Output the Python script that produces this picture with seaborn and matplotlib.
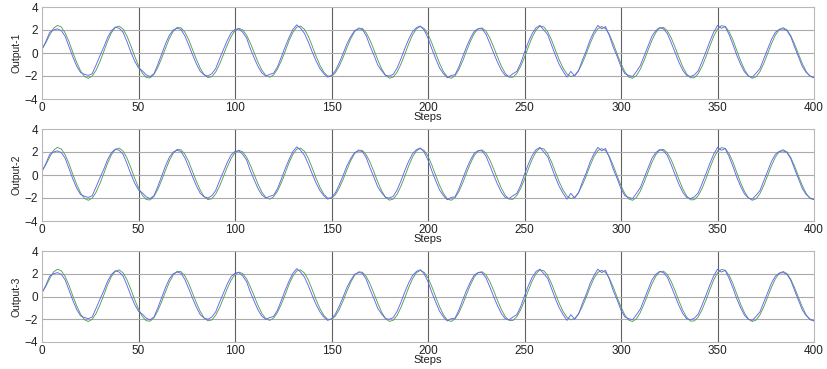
import numpy as np
import pandas as pd
import seaborn as sns
import matplotlib
matplotlib.use("Agg")
import matplotlib.pyplot as plt

# sample positions (every 2 steps)
steps = list(range(0, 401, 2))

# reference output (smooth, green)
reference = [
    0.35, 0.90, 1.57, 2.16, 2.40, 2.26, 1.75, 0.98, 0.04, -0.83,
    -1.56, -2.04, -2.20, -2.01, -1.50, -0.75, 0.12, 1.03, 1.77, 2.23,
    2.34, 2.08, 1.48, 0.65, -0.27, -1.10, -1.76, -2.13, -2.17, -1.87,
    -1.26, -0.46, 0.43, 1.26, 1.89, 2.22, 2.19, 1.82, 1.16, 0.31,
    -0.56, -1.32, -1.88, -2.14, -2.06, -1.65, -0.98, -0.15, 0.70, 1.44,
    1.95, 2.15, 2.01, 1.55, 0.84, 0.00, -0.82, -1.51, -1.96, -2.10,
    -1.90, -1.40, -0.68, 0.16, 1.07, 1.80, 2.25, 2.34, 2.06, 1.45,
    0.61, -0.28, -1.06, -1.66, -2.00, -2.02, -1.72, -1.15, -0.39, 0.46,
    1.26, 1.87, 2.17, 2.13, 1.76, 1.10, 0.27, -0.61, -1.38, -1.94,
    -2.19, -2.09, -1.66, -0.96, -0.11, 0.79, 1.57, 2.10, 2.30, 2.13,
    1.63, 0.86, -0.04, -0.90, -1.61, -2.07, -2.20, -1.98, -1.44, -0.68,
    0.19, 1.03, 1.71, 2.11, 2.18, 1.91, 1.32, 0.53, -0.34, -1.14,
    -1.76, -2.10, -2.11, -1.78, -1.17, -0.37, 0.53, 1.38, 2.01, 2.33,
    2.27, 1.85, 1.14, 0.25, -0.60, -1.32, -1.83, -2.05, -1.94, -1.52,
    -0.87, -0.07, 0.82, 1.60, 2.12, 2.30, 2.12, 1.60, 0.82, -0.08,
    -0.93, -1.63, -2.08, -2.20, -1.96, -1.41, -0.64, 0.24, 1.09, 1.77,
    2.17, 2.23, 1.93, 1.32, 0.51, -0.38, -1.20, -1.82, -2.16, -2.15,
    -1.80, -1.17, -0.34, 0.58, 1.44, 2.08, 2.38, 2.31, 1.86, 1.13,
    0.21, -0.68, -1.44, -1.98, -2.20, -2.07, -1.61, -0.90, -0.04, 0.83,
    1.56, 2.04, 2.20, 2.01, 1.50, 0.75, -0.11, -0.94, -1.62, -2.04,
    -2.14,
]

# model output (noisy, blue)
model = [
    0.30, 1.00, 1.80, 2.00, 2.10, 1.95, 1.45, 0.55, -0.35, -1.15,
    -1.70, -1.85, -1.95, -1.80, -1.05, -0.25, 0.50, 1.35, 1.95, 2.25,
    2.15, 1.80, 1.00, 0.10, -0.70, -1.30, -1.55, -1.90, -2.05, -1.80,
    -1.00, -0.10, 0.80, 1.55, 2.00, 2.15, 2.05, 1.50, 0.70, -0.15,
    -0.95, -1.60, -1.90, -2.00, -1.80, -1.35, -0.50, 0.30, 1.10, 1.75,
    2.05, 2.10, 1.80, 1.30, 0.35, -0.45, -1.20, -1.75, -2.00, -1.85,
    -1.75, -1.20, -0.35, 0.55, 1.35, 2.05, 2.45, 2.15, 1.70, 0.95,
    0.10, -0.70, -1.35, -1.80, -2.10, -1.95, -1.55, -0.85, -0.05, 0.80,
    1.45, 1.95, 2.10, 2.05, 1.50, 0.60, -0.20, -1.05, -1.55, -1.95,
    -2.00, -1.85, -1.30, -0.50, 0.40, 1.20, 1.85, 2.20, 2.35, 2.00,
    1.30, 0.35, -0.50, -1.30, -1.80, -2.15, -1.95, -1.90, -1.20, -0.30,
    0.55, 1.30, 1.90, 2.10, 2.10, 1.65, 0.85, 0.00, -0.80, -1.50,
    -1.95, -2.05, -1.80, -1.60, -0.90, 0.05, 0.95, 1.70, 2.20, 2.40,
    2.00, 1.60, 0.70, -0.20, -1.00, -1.60, -2.10, -1.60, -2.00, -1.55,
    -0.60, 0.20, 1.15, 1.85, 2.40, 2.10, 2.30, 1.50, 0.50, -0.30,
    -1.20, -1.80, -1.95, -2.05, -1.60, -1.10, -0.25, 0.60, 1.45, 1.95,
    2.20, 2.10, 1.70, 0.90, 0.05, -0.80, -1.50, -1.95, -2.05, -1.90,
    -1.55, -0.75, 0.10, 1.00, 1.80, 2.40, 2.15, 2.30, 1.60, 0.75,
    -0.20, -1.00, -1.65, -2.00, -2.10, -1.75, -1.35, -0.50, 0.35, 1.20,
    1.80, 2.05, 2.10, 1.95, 1.40, 0.50, -0.35, -1.20, -1.70, -2.00,
    -2.15,
]

panel_labels = ["Output-1", "Output-2", "Output-3"]
x_ticks = [0, 50, 100, 150, 200, 250, 300, 350, 400]
y_ticks = [-4, -2, 0, 2, 4]

sns.set_style("white")
plt.rcParams["font.family"] = ["Liberation Sans", "DejaVu Sans"]

df = pd.DataFrame({"Steps": steps, "reference": reference, "model": model})

fig = plt.figure(figsize=(8.27, 3.69), dpi=100)

# axes boxes in pixels (top, bottom)
boxes = [(7, 99), (129, 221), (251, 342)]
W, H = 827, 369
left, right = 42, 814

for label, (top, bottom) in zip(panel_labels, boxes):
    ax = fig.add_axes([left / W, 1 - bottom / H, (right - left) / W, (bottom - top) / H])
    sns.lineplot(data=df, x="Steps", y="reference", ax=ax, color="#55a055", linewidth=0.65)
    sns.lineplot(data=df, x="Steps", y="model", ax=ax, color="#6464f5", linewidth=0.65)
    ax.set_xlim(0, 400)
    ax.set_ylim(-4, 4)
    ax.set_xticks(x_ticks)
    ax.set_yticks(y_ticks)
    for xv in x_ticks[1:-1]:
        ax.axvline(xv, color="#606060", linewidth=0.8, zorder=0)
    for yv in y_ticks[1:-1]:
        ax.axhline(yv, color="#aaaaaa", linewidth=0.8, zorder=0)
    for side in ax.spines.values():
        side.set_color("#b8b8b8")
        side.set_linewidth(0.8)
    ax.tick_params(axis="x", length=0, pad=2, labelsize=8.5, labelcolor="#222222")
    ax.tick_params(axis="y", length=0, pad=3, labelsize=8.5, labelcolor="#222222")
    ax.set_xlabel("Steps", fontsize=8, labelpad=-1, color="#222222")
    ax.set_ylabel(label, fontsize=7.5, labelpad=2, color="#222222")

fig.savefig("out.png", dpi=100)
